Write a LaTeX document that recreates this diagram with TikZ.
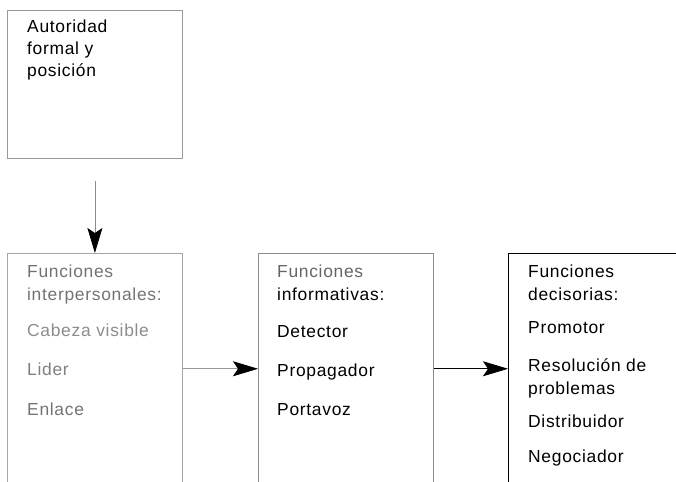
\documentclass[tikz,border=0pt]{standalone}
\usepackage{fontspec}
\setmainfont{Liberation Sans}[LetterSpace=4]
\usetikzlibrary{arrows.meta}

\begin{document}
\begin{tikzpicture}[x=1bp,y=-1bp,
    box/.style={draw,line width=0.8pt,minimum width=175bp,anchor=north west,inner sep=0pt},
    entry/.style={anchor=base west,inner sep=0pt,font=\fontsize{17.5}{20}\selectfont},
    link/.style={line width=0.8pt,-{Stealth[length=25bp,width=15bp,inset=5bp,color=black]}}]

  \useasboundingbox (0,0) rectangle (676,482);
  \clip (0,0) rectangle (676,482);

  % --- the four boxes, the lower three run off the page ---
  \node[box,draw=black!40,minimum height=148bp] (autoridad) at (7,10) {};
  \node[box,draw=black!35,minimum height=260bp] (interp)    at (7,253) {};
  \node[box,draw=black!45,minimum height=260bp] (inform)    at (258,253) {};
  \node[box,draw=black,minimum width=200bp,minimum height=260bp] (decis) at (508,253) {};

  % --- lettering, box by box ---
  \node[entry]           (aut1) at (27,33)  {Autoridad};
  \node[entry]           (aut2) at (27,55)  {formal y};
  \node[entry]           (aut3) at (27,77)  {posición};

  \node[entry,black!55]  (int1)   at (27,277) {Funciones};
  \node[entry,black!55]  (int2)   at (27,300) {interpersonales:};
  \node[entry,black!45]  (cabeza) at (27,336) {Cabeza visible};
  \node[entry,black!50]  (lider)  at (27,375) {Lider};
  \node[entry,black!55]  (enlace) at (27,415) {Enlace};

  \node[entry,black!60]  (inf1) at (277,277) {Funciones};
  \node[entry]           (inf2) at (277,300) {informativas:};
  \node[entry]           (detector)   at (277,337) {Detector};
  \node[entry]           (propagador) at (277,376) {Propagador};
  \node[entry]           (portavoz)   at (277,415) {Portavoz};

  \node[entry]           (dec1) at (528,277) {Funciones};
  \node[entry]           (dec2) at (528,300) {decisorias:};
  \node[entry]           (promotor)  at (528,333) {Promotor};
  \node[entry]           (resol1)    at (528,371) {Resolución de};
  \node[entry]           (resol2)    at (528,394) {problemas};
  \node[entry]           (distrib)   at (528,427) {Distribuidor};
  \node[entry]           (negoc)     at (528,462) {Negociador};

  % --- the arrows ---
  \draw[link,black!45,shorten <=22bp] (autoridad.south) -- (interp.north);
  \draw[link,black!40] (interp.east |- lider) -- (inform.west |- lider);
  \draw[link,black]    (inform.east |- lider) -- (decis.west |- lider);
\end{tikzpicture}
\end{document}
